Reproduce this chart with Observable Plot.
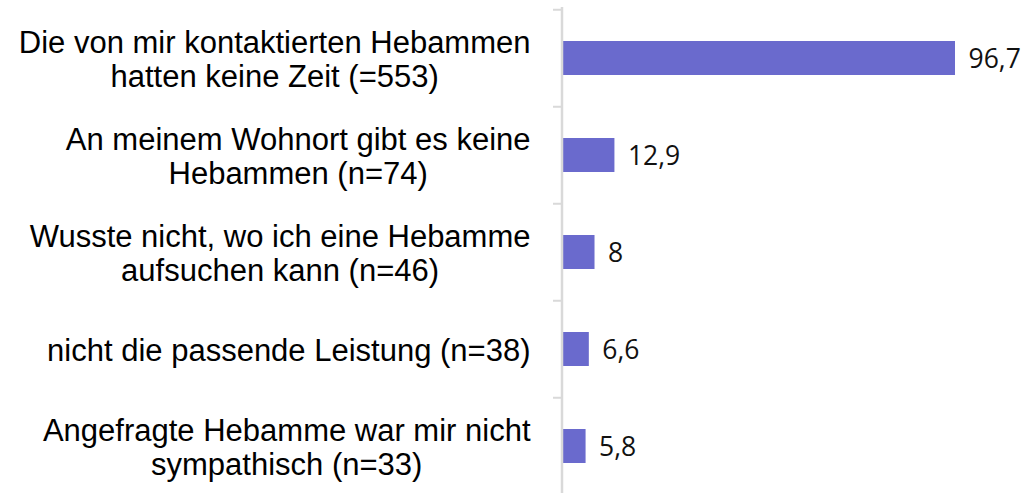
<!DOCTYPE html>
<html>
<head>
<meta charset="utf-8">
<script src="https://cdn.jsdelivr.net/npm/d3@7"></script>
<script src="https://cdn.jsdelivr.net/npm/@observablehq/plot@0.6"></script>
<style>
  html, body { margin: 0; padding: 0; background: #fff; }
  svg { overflow: visible; }
</style>
</head>
<body>
<div id="chart"></div>
<script>
const categories = [
  "Die von mir kontaktierten Hebammen\nhatten keine Zeit (=553)",
  "An meinem Wohnort gibt es keine\nHebammen (n=74)",
  "Wusste nicht, wo ich eine Hebamme\naufsuchen kann (n=46)",
  "nicht die passende Leistung (n=38)",
  "Angefragte Hebamme war mir nicht\nsympathisch (n=33)"
];
const values = [96.7, 12.9, 8, 6.6, 5.8];
const valueLabels = ["96,7", "12,9", "8", "6,6", "5,8"];

const data = categories.map((c, i) => ({cat: c, value: values[i], label: valueLabels[i]}));

const W = 1032, H = 493;
const mLeft = 562, mRight = 77, yTop = 8, yBottom = 495.5;
const step = (yBottom - yTop) / categories.length;
const pxPerUnit = (W - mLeft - mRight) / d3.max(values);
const labelFont = "31px 'Liberation Sans', Arial, sans-serif";
const ctx = document.createElement("canvas").getContext("2d");
ctx.font = labelFont;
const widths = categories.map(c => d3.max(c.split("\n"), l => ctx.measureText(l).width));

const labelMarks = categories.map((c, i) => Plot.text([c], {
  x: () => 0, y: d => d, text: d => d,
  dx: -(32 + widths[i] / 2), dy: 1,
  textAnchor: "middle", lineAnchor: "middle", lineHeight: 1.1,
  fontFamily: "'Liberation Sans', Arial, sans-serif", fontSize: 31, fill: "#000"
}));

const tickLen = 9 / pxPerUnit;

const chart = Plot.plot({
  width: W, height: H,
  marginLeft: mLeft, marginRight: mRight, marginTop: 0, marginBottom: 0,
  x: {domain: [0, d3.max(values)], axis: null},
  y: {domain: categories, range: [yTop, yBottom], paddingInner: 0.65, paddingOuter: 0.325, axis: null},
  marks: [
    Plot.barX(data, {x: "value", y: "cat", fill: "#6a6acd"}),
    Plot.ruleY(data, {y: "cat", dy: -step / 2, x1: -tickLen, x2: 0, stroke: "#d9d9d9", strokeWidth: 2}),
    Plot.ruleY(data.slice(-1), {y: "cat", dy: step / 2, x1: -tickLen, x2: 0, stroke: "#d9d9d9", strokeWidth: 2}),
    Plot.text(data, {x: "value", y: "cat", text: "label", dx: 13, dy: 1, textAnchor: "start",
      fontFamily: "'Open Sans', sans-serif", fontSize: 26.5, fill: "#111"}),
    ...labelMarks
  ]
});

const svg = d3.select(chart);
svg.append("line")
  .attr("x1", mLeft).attr("x2", mLeft)
  .attr("y1", yTop - 1).attr("y2", H)
  .attr("stroke", "#d9d9d9").attr("stroke-width", 2.5);
document.getElementById("chart").appendChild(chart);
</script>
</body>
</html>
